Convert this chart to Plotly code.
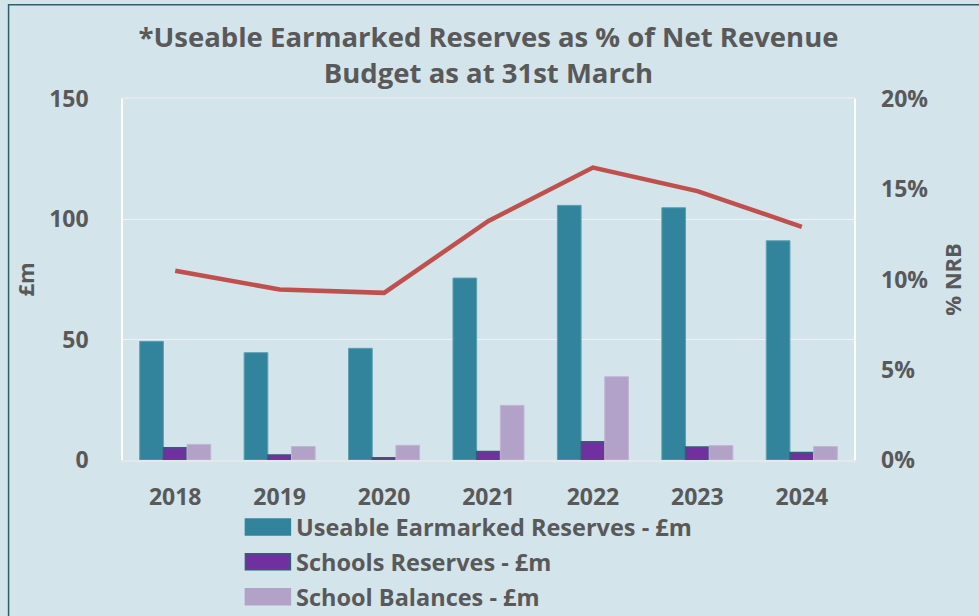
import plotly.graph_objects as go

years = ['2018', '2019', '2020', '2021', '2022', '2023', '2024']
useable_reserves = [49.3, 44.6, 46.4, 75.6, 105.8, 104.8, 91.1]
schools_reserves = [5.1, 2.1, 0.9, 3.5, 7.6, 5.4, 3.1]
school_balances = [6.5, 5.6, 6.1, 22.7, 34.6, 6.0, 5.6]
pct_nrb = [0.1048, 0.0945, 0.0926, 0.1324, 0.162, 0.149, 0.1292]

series_names = ['Useable Earmarked Reserves - £m', 'Schools Reserves - £m', 'School Balances - £m']
series_colors = ['#31849B', '#7030A0', '#B3A2C7']
series_edges = ['#5E9FB2', '#2C6272', '#C2B5D3']

TXT = '#595959'
BG = '#D3E4EB'
FONT = 'Open Sans'

W, H = 979, 616
L, R, T, B = 122.5, 125, 98.5, 156
pw, ph = W - L - R, H - T - B


def px2x(p):
    return (p - L) / pw


def py2y(p):
    return (H - B - p) / ph


fig = go.Figure()
for vals, name, col, edge, ew in zip([useable_reserves, schools_reserves, school_balances],
                                    series_names, series_colors, series_edges, [1, 1.5, 1]):
    fig.add_trace(go.Bar(x=years, y=vals, name=name, showlegend=False,
                         marker=dict(color=col, line=dict(color=edge, width=ew))))
fig.add_trace(go.Scatter(x=years, y=pct_nrb, yaxis='y2', mode='lines',
                         line=dict(color='#C0504D', width=4.5), showlegend=False,
                         name='% NRB'))

# custom legend (large swatches like the original)
shapes = [dict(type='rect', xref='paper', yref='paper',
               x0=px2x(8), x1=px2x(990), y0=py2y(630), y1=py2y(4),
               line=dict(color='#2E5F6B', width=1.5), fillcolor='rgba(0,0,0,0)', layer='below')]
annotations = []
for i, (name, col, edge) in enumerate(zip(series_names, series_colors, series_edges)):
    yc = 527 + 35 * i
    shapes.append(dict(type='rect', xref='paper', yref='paper',
                       x0=px2x(245), x1=px2x(290), y0=py2y(yc + 8), y1=py2y(yc - 8),
                       fillcolor=col, line=dict(color=edge if i == 1 else col, width=1.5)))
    annotations.append(dict(text='<b>' + name + '</b>', xref='paper', yref='paper',
                            x=px2x(294), y=py2y(yc), xanchor='left', yanchor='middle',
                            showarrow=False, font=dict(size=23.5, color=TXT, family=FONT)))

fig.update_layout(
    width=W, height=H,
    margin=dict(l=L, r=R, t=T, b=B, pad=0, autoexpand=False),
    paper_bgcolor=BG, plot_bgcolor=BG,
    font=dict(family=FONT, color=TXT, size=22),
    title=dict(text='<b>*Useable Earmarked Reserves as % of Net Revenue<br>Budget as at 31st March</b>',
               x=0.5, xref='paper', xanchor='center', y=1 - 47 / H, yanchor='middle',
               font=dict(size=27.5, color=TXT, family=FONT)),
    barmode='group', bargap=0.32, bargroupgap=0,
    showlegend=False,
    xaxis=dict(showgrid=False, showline=True, linecolor='#E4E8EA', linewidth=1.5, mirror=True,
               ticks='', tickfont=dict(size=23, color=TXT, family=FONT), ticklabelstandoff=16,
               tickprefix='<b>', ticksuffix='</b>'),
    yaxis=dict(range=[0, 150], dtick=50, showgrid=True, gridcolor='rgba(255,255,255,0.55)', gridwidth=1,
               showline=True, linecolor='white', linewidth=1.5, mirror=True, zeroline=False,
               ticks='', tickfont=dict(size=23, color=TXT, family=FONT), ticklabelstandoff=28,
               tickprefix='<b>', ticksuffix='</b>',
               title=dict(text='<b>£m</b>', font=dict(size=22, color=TXT, family=FONT), standoff=8)),
    yaxis2=dict(range=[0, 0.2], dtick=0.05, tickformat='.0%', overlaying='y', side='right',
                showgrid=False, zeroline=False, showline=False, ticks='',
                tickfont=dict(size=23, color=TXT, family=FONT), ticklabelstandoff=26,
                tickprefix='<b>', ticksuffix='</b>',
                title=dict(text='<b>% NRB</b>', font=dict(size=22, color=TXT, family=FONT), standoff=18)),
    shapes=shapes,
    annotations=annotations,
)

fig.write_html('out.html')
